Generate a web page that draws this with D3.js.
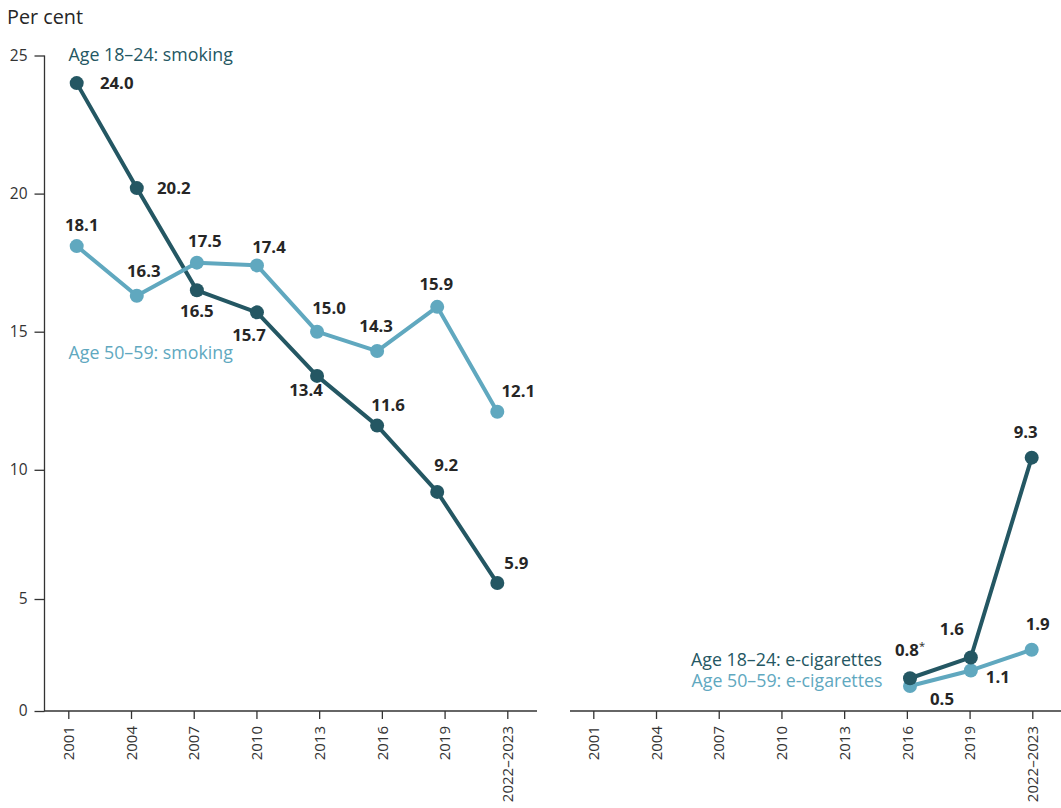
<!DOCTYPE html>
<html>
<head>
<meta charset="utf-8">
<script src="https://cdn.jsdelivr.net/npm/d3@7"></script>
<style>
  html, body { margin: 0; padding: 0; background: #ffffff; }
  svg { display: block; font-family: "Open Sans", "Noto Sans", sans-serif; }
</style>
</head>
<body>
<svg id="chart" width="1061" height="808"></svg>
<script>
// ---------- data ----------
const categories = ["2001", "2004", "2007", "2010", "2013", "2016", "2019", "2022\u20132023"];
const smoking1824 = [24.0, 20.2, 16.5, 15.7, 13.4, 11.6, 9.2, 5.9];
const smoking5059 = [18.1, 16.3, 17.5, 17.4, 15.0, 14.3, 15.9, 12.1];
const ecigCategories = ["2016", "2019", "2022\u20132023"];
const ecig1824 = [0.8, 1.6, 9.3];
const ecig5059 = [0.5, 1.1, 1.9];
const ecig1824Notes = ["*", "", ""];
const yTicks = [0, 5, 10, 15, 20, 25];

const darkColor = "#245763";
const lightColor = "#60a8bf";
const textColor = "#262626";

const svg = d3.select("#chart");

// ---------- scales ----------
// left panel
const xAxisL = d3.scalePoint().domain(categories).range([68.3, 507.3]);
const xDataL = d3.scalePoint().domain(categories).range([76.7, 497.3]);
const yDataL = d3.scaleLinear().domain([0, 25]).range([746, 55.5]);
const yAxisL = d3.scaleLinear().domain([0, 5, 10, 25]).range([711, 599, 469.8, 55.5]);
// right panel
const xAxisR = d3.scalePoint().domain(categories).range([593.3, 1032.3]);
const xDataR = d3.scalePoint().domain(categories).range([605.8, 1031.7]);
const yDataR = d3.scaleLinear().domain([0, 25]).range([699, 50.2]);

// ---------- title ----------
svg.append("text")
  .attr("x", 7).attr("y", 24)
  .attr("font-size", 19.8).attr("fill", textColor)
  .text("Per cent");

// ---------- y axis ----------
const gy = svg.append("g").attr("transform", "translate(44.5,0)")
  .call(d3.axisLeft(yAxisL).tickValues(yTicks).tickSize(10).tickPadding(7).tickFormat(d3.format("d")));
gy.select(".domain").attr("stroke", "#333").attr("stroke-width", 1.3).attr("d", "M0,55.5V711");
gy.selectAll(".tick line").attr("stroke", "#333").attr("stroke-width", 1.3);
gy.selectAll(".tick text").attr("font-size", 15.5).attr("fill", "#333").attr("font-family", "Open Sans, sans-serif");

// ---------- x axes ----------
function drawXAxis(scale, x0, x1) {
  const g = svg.append("g").attr("transform", "translate(0,711)")
    .call(d3.axisBottom(scale).tickSize(8).tickPadding(6));
  g.select(".domain").attr("stroke", "#333").attr("stroke-width", 1.3).attr("d", `M${x0},0H${x1}`);
  g.selectAll(".tick line").attr("stroke", "#333").attr("stroke-width", 1.3);
  g.selectAll(".tick text")
    .attr("font-size", 15).attr("fill", "#333").attr("font-family", "Open Sans, sans-serif")
    .attr("transform", "rotate(-90)")
    .attr("text-anchor", "end")
    .attr("x", -15).attr("y", 0).attr("dy", "0.35em");
}
drawXAxis(xAxisL, 44, 537);
drawXAxis(xAxisR, 570, 1061);

// ---------- series ----------
function drawSeries(cats, vals, xs, ys, color) {
  const pts = cats.map((c, i) => [xs(c), ys(vals[i])]);
  svg.append("path")
    .attr("d", d3.line()(pts))
    .attr("fill", "none").attr("stroke", color)
    .attr("stroke-width", 4).attr("stroke-linejoin", "round");
  svg.append("g").selectAll("circle").data(pts).join("circle")
    .attr("cx", d => d[0]).attr("cy", d => d[1]).attr("r", 7)
    .attr("fill", color);
  return pts;
}
const pS1824 = drawSeries(categories, smoking1824, xDataL, yDataL, darkColor);
const pS5059 = drawSeries(categories, smoking5059, xDataL, yDataL, lightColor);
const pE5059 = drawSeries(ecigCategories, ecig5059, xDataR, yDataR, lightColor);
const pE1824 = drawSeries(ecigCategories, ecig1824, xDataR, yDataR, darkColor);

// ---------- value labels ----------
const fmt = d3.format(".1f");
// offsets of label centre from point [dx, dy]
const offS1824 = [[40, 0], [37, 0], [0, 21], [-8, 23], [-11, 14], [11, -20], [9, -27], [19, -20]];
const offS5059 = [[5, -21], [7, -25], [8, -22], [12, -18], [12, -24], [-1, -25], [-1, -23], [21, -21]];
const offE1824 = [[0, -28], [-19, -28], [-6, -26]];
const offE5059 = [[32, 13], [27, 7], [6, -26]];

function drawLabels(pts, vals, offs, notes) {
  const g = svg.append("g");
  pts.forEach((p, i) => {
    const t = g.append("text")
      .attr("x", p[0] + offs[i][0]).attr("y", p[1] + offs[i][1])
      .attr("text-anchor", "middle").attr("dy", "0.35em")
      .attr("font-size", 16.8).attr("font-weight", 700).attr("fill", textColor)
      .text(fmt(vals[i]));
    if (notes && notes[i]) {
      t.append("tspan").attr("font-size", 11).attr("font-weight", 400).attr("dy", "-0.6em").text(notes[i]);
    }
  });
}
drawLabels(pS1824, smoking1824, offS1824);
drawLabels(pS5059, smoking5059, offS5059);
drawLabels(pE1824, ecig1824, offE1824, ecig1824Notes);
drawLabels(pE5059, ecig5059, offE5059);

// ---------- series names ----------
const names = [
  { text: "Age 18\u201324: smoking", x: 68.5, y: 55, color: darkColor, anchor: "start" },
  { text: "Age 50\u201359: smoking", x: 68.5, y: 352.5, color: lightColor, anchor: "start" },
  { text: "Age 18\u201324: e-cigarettes", x: 882, y: 659.5, color: darkColor, anchor: "end" },
  { text: "Age 50\u201359: e-cigarettes", x: 882.5, y: 680.5, color: lightColor, anchor: "end" }
];
svg.append("g").selectAll("text").data(names).join("text")
  .attr("x", d => d.x).attr("y", d => d.y).attr("dy", "0.35em")
  .attr("text-anchor", d => d.anchor)
  .attr("font-size", 17.8).attr("fill", d => d.color)
  .text(d => d.text);
</script>
</body>
</html>
